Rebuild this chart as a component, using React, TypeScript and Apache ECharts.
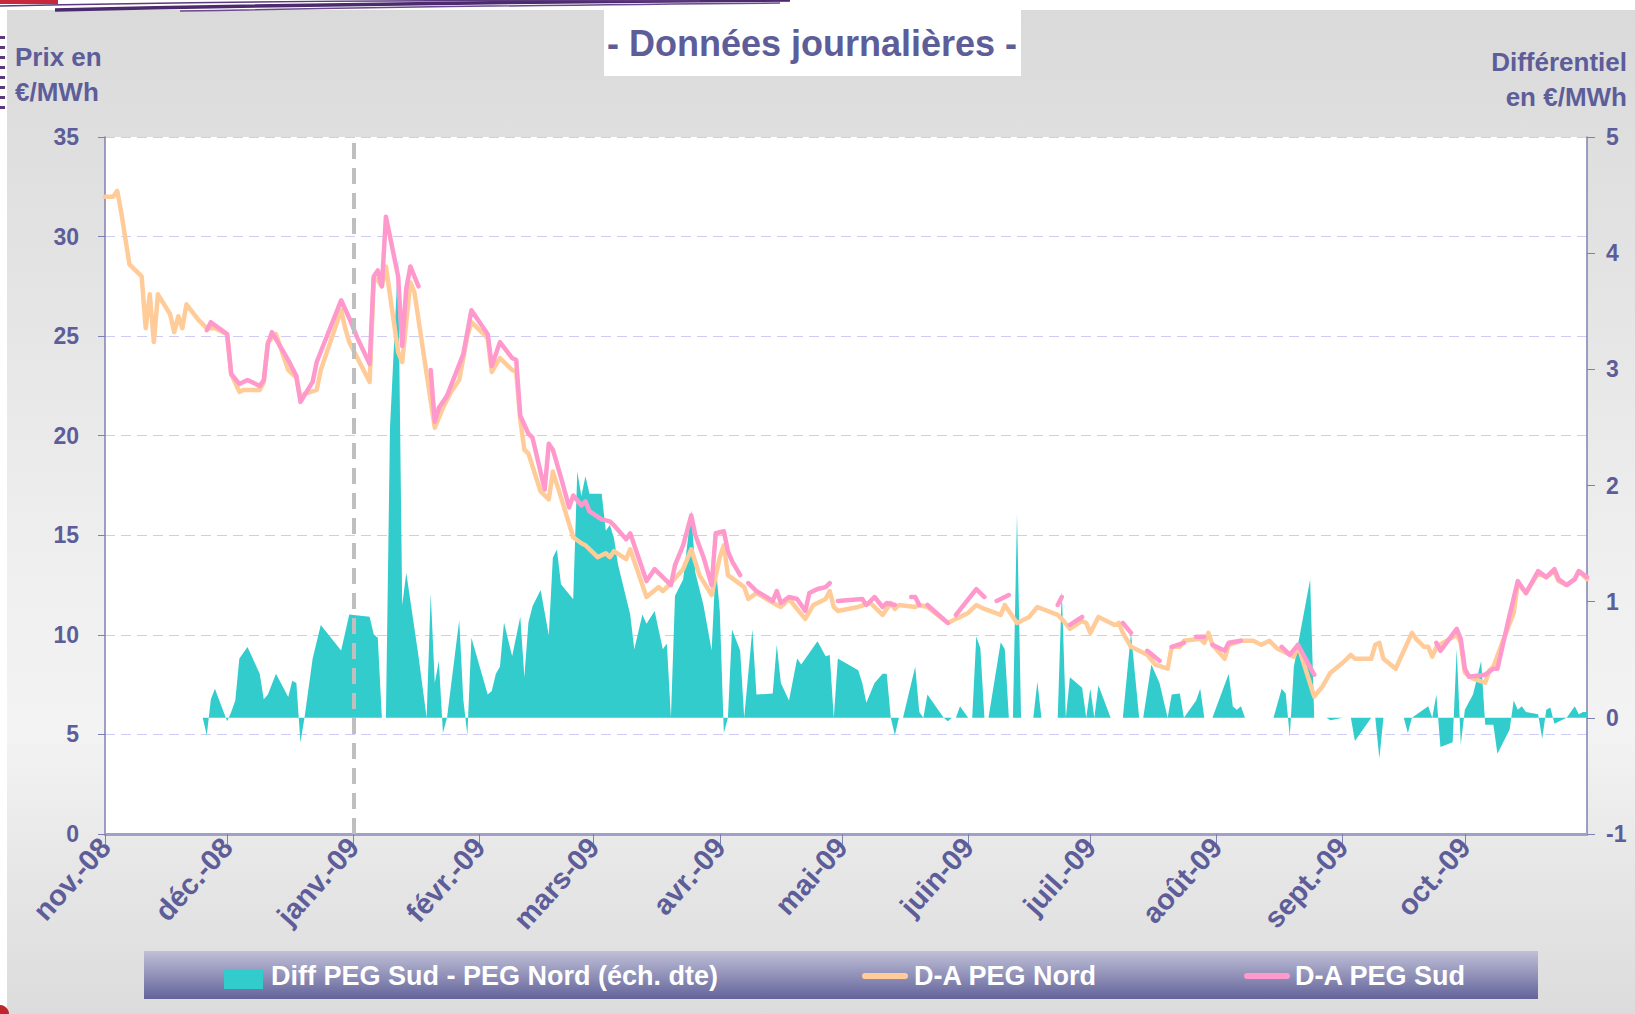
import React, { useEffect, useRef } from "react";
import * as echarts from "echarts";

// x values are day offsets from 1 Nov 2008 (0) to 31 Oct 2009 (364)
const monthTicks = [0, 30, 61, 92, 120, 151, 181, 212, 242, 273, 304, 334];
const monthLabels = ["nov.-08", "déc.-08", "janv.-09", "févr.-09", "mars-09", "avr.-09", "mai-09", "juin-09", "juil.-09", "août-09", "sept.-09", "oct.-09"];
const janCutDay = 61;

// D-A PEG Nord (€/MWh, left axis)
const nordPrices: [number, number][] = [
  [0, 32.0], [2, 32.0], [3, 32.3], [4, 31.2], [5, 29.9], [6, 28.6], [9, 28.0], [10, 25.4], [11, 27.1], [12, 24.7], [13, 27.1],
  [16, 26.1], [17, 25.2], [18, 26.0], [19, 25.4], [20, 26.6], [23, 25.8], [25, 25.4], [27, 25.4], [30, 25.1], [31, 23.1],
  [33, 22.2], [34, 22.3], [38, 22.3], [39, 22.7], [40, 24.7], [42, 25.1], [45, 23.3], [47, 22.9], [48, 21.9], [49, 22.1],
  [52, 22.3], [53, 23.3], [58, 26.3], [59, 25.4], [60, 24.7], [65, 22.7], [66, 27.9], [67, 27.8], [68, 27.5], [69, 28.5],
  [72, 24.2], [73, 23.7], [75, 27.7], [76, 27.2], [79, 23.1], [81, 20.4], [83, 21.4], [85, 22.2], [87, 22.8], [89, 25.0],
  [90, 25.7], [94, 24.9], [95, 23.2], [97, 23.9], [100, 23.3], [101, 23.2], [102, 20.8], [103, 19.3], [104, 19.1],
  [107, 17.2], [109, 16.8], [110, 18.2], [112, 16.9], [115, 14.9], [117, 14.6], [118, 14.5], [121, 13.9], [123, 14.1],
  [124, 13.9], [125, 14.2], [128, 13.8], [129, 14.3], [133, 11.9], [136, 12.4], [137, 12.2], [139, 12.6], [142, 13.3],
  [144, 14.3], [146, 13.0], [149, 12.0], [151, 13.9], [152, 14.5], [153, 13.0], [157, 12.4], [158, 11.8], [160, 12.1],
  [165, 11.5], [166, 11.4], [168, 11.8], [170, 11.3], [172, 10.8], [174, 11.5], [177, 11.8], [178, 12.2], [179, 11.4],
  [180, 11.2], [185, 11.4], [188, 11.6], [191, 11.0], [193, 11.6], [194, 11.3], [195, 11.5], [199, 11.4], [200, 11.5],
  [202, 11.4], [207, 10.6], [210, 10.9], [212, 11.1], [214, 11.5], [216, 11.3], [220, 11.0], [221, 11.5], [224, 10.6],
  [227, 10.9], [229, 11.4], [234, 11.0], [235, 10.8], [237, 10.3], [240, 10.7], [241, 10.6], [242, 10.1], [244, 10.9],
  [248, 10.5], [249, 10.6], [250, 10.1], [252, 9.4], [255, 9.1], [256, 9.0], [258, 8.5], [261, 8.3], [262, 9.4],
  [264, 9.4], [265, 9.7], [269, 9.8], [270, 9.6], [271, 10.1], [272, 9.5], [275, 8.8], [276, 9.5], [279, 9.7],
  [282, 9.7], [284, 9.5], [286, 9.7], [288, 9.3], [292, 8.9], [293, 9.5], [297, 6.9], [299, 7.4], [301, 8.1],
  [304, 8.6], [306, 9.0], [307, 8.8], [311, 8.8], [312, 9.5], [313, 9.6], [314, 8.8], [317, 8.3], [321, 10.1],
  [322, 9.8], [324, 9.4], [325, 9.4], [326, 8.9], [327, 9.4], [332, 10.0], [333, 9.6], [334, 8.1], [336, 7.8],
  [339, 7.6], [340, 8.2], [341, 8.4], [343, 9.5], [346, 11.1], [347, 12.6], [349, 12.1], [352, 13.1], [354, 12.9],
  [356, 13.2], [357, 12.7], [359, 12.5], [361, 12.8], [362, 13.2], [364, 12.8],
];

// D-A PEG Sud (€/MWh, left axis) – null = missing day
const sudPrices: [number, number | null][] = [
  [25, 25.3], [26, 25.7], [30, 25.1], [31, 23.1], [33, 22.6], [35, 22.8], [38, 22.5], [39, 22.8], [40, 24.6], [41, 25.2],
  [45, 23.8], [47, 23.0], [48, 21.7], [51, 22.7], [52, 23.7], [58, 26.8], [60, 25.9], [62, 24.9], [65, 23.6], [66, 28.0],
  [67, 28.3], [68, 27.5], [69, 31.0], [72, 28.0], [73, 24.5], [74, 27.4], [75, 28.5], [77, 27.5], [78, null],
  [80, 23.3], [81, 20.7], [82, 21.4], [84, 22.0], [88, 24.1], [90, 26.3], [94, 25.1], [95, 23.5], [97, 24.7],
  [100, 23.9], [101, 23.8], [102, 21.0], [104, 20.1], [105, 19.9], [108, 17.3], [109, 19.6], [110, 19.3], [112, 17.9],
  [114, 16.4], [115, 17.0], [117, 16.5], [118, 16.7], [119, 16.2], [122, 15.8], [124, 15.7], [125, 15.5], [128, 14.8],
  [129, 15.1], [133, 12.7], [135, 13.3], [139, 12.5], [140, 13.5], [142, 14.5], [144, 16.0], [145, 15.0], [147, 13.9],
  [149, 12.5], [150, 15.1], [152, 15.2], [153, 14.2], [154, 13.7], [156, 13.0], [157, null],
  [158, 12.6], [160, 12.2], [164, 11.7], [165, 12.2], [166, 11.6], [168, 11.9], [170, 11.8], [172, 11.2], [173, 12.1],
  [175, 12.3], [177, 12.4], [178, 12.6], [179, null],
  [180, 11.7], [186, 11.8], [187, 11.5], [189, 11.9], [191, 11.4], [192, 11.6], [194, 11.5], [196, null],
  [198, 11.9], [199, 11.9], [200, 11.5], [201, null],
  [202, 11.5], [207, 10.6], [208, null],
  [209, 11.0], [214, 12.3], [216, 11.9], [218, null],
  [219, 11.7], [222, 12.0], [228, null],
  [234, 11.5], [235, 11.9], [236, null],
  [237, 10.5], [240, 10.9], [245, null],
  [250, 10.6], [252, 10.1], [254, null],
  [256, 9.2], [259, 8.7], [260, null],
  [262, 9.4], [265, 9.6], [267, null],
  [268, 9.9], [270, 9.9], [271, null],
  [272, 9.5], [275, 9.2], [276, 9.6], [279, 9.7], [284, null],
  [289, 9.4], [291, 9.0], [293, 9.5], [297, 8.0], [310, null],
  [327, 9.6], [328, 9.2], [332, 10.3], [333, 9.8], [334, 8.3], [335, 7.9], [339, 8.0], [341, 8.3], [342, 8.3],
  [343, 9.2], [345, 11.0], [347, 12.7], [349, 12.1], [352, 13.2], [354, 12.9], [356, 13.3], [357, 12.8], [359, 12.5],
  [361, 12.8], [362, 13.2], [364, 12.9],
];

// Diff PEG Sud - PEG Nord (€/MWh, right axis)
const diffValues: [number, number][] = [
  [24, 0], [25, -0.15], [26, 0.16], [27, 0.25], [30, -0.03], [31, 0.05], [32, 0.15], [33, 0.51], [35, 0.61], [38, 0.38],
  [39, 0.16], [40, 0.2], [42, 0.38], [45, 0.18], [46, 0.32], [47, 0.3], [48, -0.21], [49, 0], [51, 0.51], [53, 0.8],
  [58, 0.58], [60, 0.89], [65, 0.87], [66, 0.72], [67, 0.69], [68, 0], [69, 0], [70, 2.5], [72, 3.95], [73, 0.97],
  [74, 1.25], [77, 0.53], [79, 0], [80, 1.07], [81, 0.3], [82, 0.49], [83, -0.13], [84, 0], [87, 0.84], [88, 0.16],
  [89, -0.15], [90, 0.69], [94, 0.2], [95, 0.23], [96, 0.38], [97, 0.44], [98, 0.82], [100, 0.53], [102, 0.87],
  [103, 0.35], [104, 0.82], [105, 0.96], [107, 1.1], [109, 0.71], [110, 1.38], [111, 1.45], [112, 1.15], [115, 1.02],
  [116, 2.12], [117, 1.91], [118, 2.08], [119, 1.93], [122, 1.93], [123, 1.61], [124, 1.66], [125, 1.55], [126, 1.32],
  [129, 0.89], [130, 0.59], [132, 0.89], [133, 0.81], [135, 0.92], [137, 0.59], [138, 0.64], [139, 0], [140, 1.05],
  [142, 1.19], [144, 1.79], [145, 1.25], [147, 0.97], [149, 0.58], [150, 1.32], [151, 0.92], [152, -0.13], [153, 0],
  [154, 0.76], [156, 0.58], [157, 0], [159, 0.76], [160, 0.2], [164, 0.21], [165, 0.63], [166, 0.3], [168, 0.15],
  [170, 0.51], [171, 0.46], [175, 0.66], [177, 0.53], [178, 0.54], [179, 0], [180, 0.51], [185, 0.41], [186, 0.3],
  [187, 0.13], [189, 0.3], [191, 0.38], [192, 0.38], [193, 0], [194, -0.15], [195, 0], [196, 0], [199, 0.44],
  [200, 0.05], [201, 0], [202, 0.2], [206, 0], [207, -0.03], [208, 0], [209, 0], [210, 0.1], [212, 0], [213, 0],
  [214, 0.7], [215, 0.6], [216, 0], [217, 0], [220, 0.65], [221, 0.59], [222, 0], [223, 0], [224, 1.76], [225, 0],
  [228, 0], [229, 0.31], [230, 0], [234, 0], [235, 1.1], [236, 0], [237, 0.35], [240, 0.26], [241, 0], [242, 0.25],
  [243, 0], [244, 0.28], [247, 0], [250, 0], [252, 0.73], [254, 0], [255, 0], [257, 0.46], [259, 0.3], [261, 0],
  [262, 0.2], [264, 0.21], [265, 0], [268, 0.15], [269, 0.25], [270, 0], [272, 0], [276, 0.38], [277, 0.1], [278, 0.07],
  [279, 0.1], [280, 0], [287, 0], [289, 0.25], [290, 0.21], [291, -0.16], [292, 0.44], [296, 1.19], [297, 0], [300, 0],
  [301, -0.02], [304, 0], [306, 0], [307, -0.2], [311, 0], [312, 0], [313, -0.35], [314, 0], [319, 0], [320, -0.13],
  [321, 0], [325, 0.1], [326, 0], [327, 0.2], [328, -0.25], [331, -0.21], [332, 0.59], [333, -0.23], [334, 0.07],
  [336, 0.2], [338, 0.49], [339, -0.06], [341, -0.06], [342, -0.31], [345, -0.1], [346, 0.15], [347, 0.07], [348, 0.1],
  [349, 0.05], [352, 0.03], [353, -0.18], [354, 0.07], [355, 0.09], [356, -0.05], [359, 0], [361, 0.1], [362, 0.03],
  [363, 0.05], [364, 0.05],
];

const FONT = '"Liberation Sans", Arial, Helvetica, sans-serif';
const TXT = "#5d5d99";
const C_DIFF = "#33cccc";
const C_NORD = "#ffcc99";
const C_SUD = "#ff99cc";

function buildOption(): any {
  const labelStyle = { color: TXT, fontFamily: FONT, fontWeight: "bold", fontSize: 23 };
  return {
    animation: false,
    backgroundColor: "transparent",
    grid: { left: 105, right: 48, top: 137, bottom: 180, show: true, backgroundColor: "#ffffff", borderWidth: 0 },
    xAxis: {
      type: "value",
      min: 0,
      max: 364,
      axisLine: { show: true, onZero: false, lineStyle: { color: "#a0a0c8", width: 3 } },
      axisTick: { show: true, customValues: monthTicks, length: 10, lineStyle: { color: "#8080b0", width: 1 } },
      axisLabel: {
        ...labelStyle,
        fontSize: 29,
        customValues: monthTicks,
        rotate: 48,
        margin: 8,
        formatter: (v: number) => {
          const i = monthTicks.indexOf(Math.round(v));
          return i >= 0 ? monthLabels[i] : "";
        },
      },
      splitLine: { show: false },
    },
    yAxis: [
      {
        type: "value",
        min: 0,
        max: 35,
        interval: 5,
        position: "left",
        axisLine: { show: true, lineStyle: { color: "#8080b0", width: 1.5 } },
        axisTick: { show: true, length: 7, lineStyle: { color: "#8080b0" } },
        axisLabel: { ...labelStyle, margin: 26 },
        splitLine: { show: true, lineStyle: { color: "#ccccf4", width: 1, type: [10, 6] } },
      },
      {
        type: "value",
        min: -1,
        max: 5,
        interval: 1,
        position: "right",
        axisLine: { show: true, lineStyle: { color: "#8080b0", width: 1.5 } },
        axisTick: { show: true, length: 8, lineStyle: { color: "#8080b0" } },
        axisLabel: { ...labelStyle, margin: 19 },
        splitLine: { show: false },
      },
    ],
    series: [
      {
        name: "Diff PEG Sud - PEG Nord (éch. dte)",
        type: "line",
        yAxisIndex: 1,
        data: diffValues,
        symbol: "none",
        lineStyle: { width: 0, color: C_DIFF },
        itemStyle: { color: C_DIFF },
        areaStyle: { color: C_DIFF, opacity: 1 },
        z: 2,
      },
      {
        name: "D-A PEG Nord",
        type: "line",
        yAxisIndex: 0,
        data: nordPrices,
        symbol: "none",
        lineStyle: { width: 4.5, color: C_NORD, join: "round", cap: "round" },
        itemStyle: { color: C_NORD },
        z: 3,
      },
      {
        name: "D-A PEG Sud",
        type: "line",
        yAxisIndex: 0,
        data: sudPrices,
        connectNulls: false,
        symbol: "none",
        lineStyle: { width: 4.5, color: C_SUD, join: "round", cap: "round" },
        itemStyle: { color: C_SUD },
        z: 4,
        markLine: {
          silent: true,
          symbol: ["none", "none"],
          label: { show: false },
          lineStyle: { color: "#bfbfbf", width: 4, type: [16, 9] },
          data: [{ xAxis: janCutDay }],
          z: 5,
        },
      },
    ],
    graphic: [
      // top decoration
      { type: "rect", shape: { x: 0, y: 0, width: 58, height: 4 }, style: { fill: "#c8283c" }, silent: true },
      { type: "bezierCurve", shape: { x1: 55, y1: 10, cpx1: 420, cpy1: 2, x2: 790, y2: 0 }, style: { stroke: "#4b2a6e", lineWidth: 3.5, fill: "none" }, silent: true },
      { type: "bezierCurve", shape: { x1: 0, y1: 6, cpx1: 330, cpy1: -1, x2: 700, y2: 1 }, style: { stroke: "#5e3a80", lineWidth: 1.5, fill: "none" }, silent: true },
      { type: "bezierCurve", shape: { x1: 180, y1: 11, cpx1: 520, cpy1: 5, x2: 780, y2: 3 }, style: { stroke: "#6a4a8c", lineWidth: 1.5, fill: "none" }, silent: true },
      ...[36, 46, 56, 66, 76, 86, 96, 106].map((y) => ({ type: "rect", shape: { x: 0, y, width: 5, height: 3 }, style: { fill: "#5a3a7a" }, silent: true })),
      { type: "circle", shape: { cx: 0, cy: 1014, r: 9 }, style: { fill: "#c0272d" }, silent: true },
      // title box
      { type: "rect", shape: { x: 604, y: 10, width: 417, height: 66 }, style: { fill: "#ffffff" }, silent: true },
      { type: "text", x: 812, y: 43, style: { text: "- Données journalières -", fill: TXT, font: `bold 36px ${FONT}`, align: "center", verticalAlign: "middle" } },
      // axis names
      { type: "text", x: 15, y: 57, style: { text: "Prix en", fill: TXT, font: `bold 26px ${FONT}`, align: "left", verticalAlign: "middle" } },
      { type: "text", x: 15, y: 92, style: { text: "€/MWh", fill: TXT, font: `bold 26px ${FONT}`, align: "left", verticalAlign: "middle" } },
      { type: "text", x: 1627, y: 62, style: { text: "Différentiel", fill: TXT, font: `bold 26px ${FONT}`, align: "right", verticalAlign: "middle" } },
      { type: "text", x: 1627, y: 97, style: { text: "en €/MWh", fill: TXT, font: `bold 26px ${FONT}`, align: "right", verticalAlign: "middle" } },
      // legend
      {
        type: "rect",
        shape: { x: 144, y: 951, width: 1394, height: 48 },
        style: {
          fill: new echarts.graphic.LinearGradient(0, 0, 0, 1, [
            { offset: 0, color: "#c0c0d8" },
            { offset: 1, color: "#63639a" },
          ]),
        },
        silent: true,
      },
      { type: "rect", shape: { x: 224, y: 970, width: 39, height: 19 }, style: { fill: C_DIFF } },
      { type: "text", x: 271, y: 976, style: { text: "Diff PEG Sud - PEG Nord (éch. dte)", fill: "#ffffff", font: `bold 27px ${FONT}`, align: "left", verticalAlign: "middle" } },
      { type: "line", shape: { x1: 865, y1: 976, x2: 905, y2: 976 }, style: { stroke: C_NORD, lineWidth: 6, lineCap: "round" } },
      { type: "text", x: 914, y: 976, style: { text: "D-A PEG Nord", fill: "#ffffff", font: `bold 27px ${FONT}`, align: "left", verticalAlign: "middle" } },
      { type: "line", shape: { x1: 1247, y1: 976, x2: 1287, y2: 976 }, style: { stroke: C_SUD, lineWidth: 6, lineCap: "round" } },
      { type: "text", x: 1295, y: 976, style: { text: "D-A PEG Sud", fill: "#ffffff", font: `bold 27px ${FONT}`, align: "left", verticalAlign: "middle" } },
    ],
  };
}

export default function App() {
  const ref = useRef<HTMLDivElement>(null);
  useEffect(() => {
    if (!ref.current) return;
    const chart = echarts.init(ref.current, null, { renderer: "svg" });
    chart.setOption(buildOption());
    return () => chart.dispose();
  }, []);
  return (
    <div style={{ position: "fixed", left: 0, top: 0, width: 1635, height: 1014, background: "#ffffff", overflow: "hidden" }}>
      <div
        style={{
          position: "absolute",
          left: 7,
          top: 10,
          width: 1628,
          height: 1004,
          background: "linear-gradient(180deg, #dadada 0%, #e3e3e3 25%, #efefef 55%, #f3f3f3 72%, #e6e6e6 86%, #dcdcdc 100%)",
        }}
      />
      <div ref={ref} style={{ position: "absolute", left: 0, top: 0, width: 1635, height: 1014 }} />
    </div>
  );
}
